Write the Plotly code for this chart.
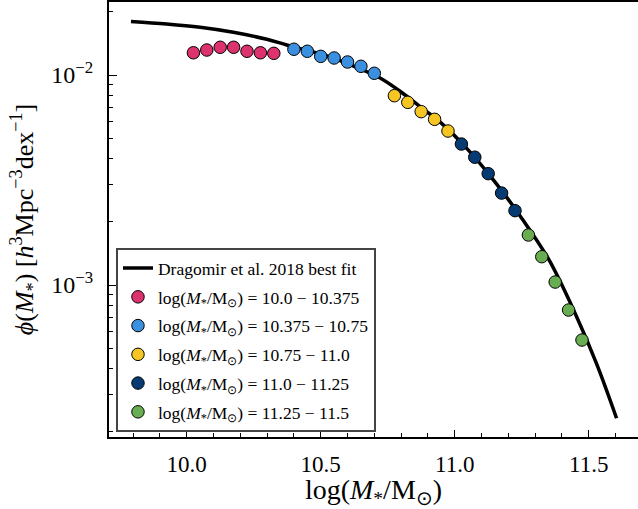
import plotly.graph_objects as go

# Best-fit stellar mass function curve (Dragomir et al. 2018)
fit_logm = [9.792, 9.925, 10.05, 10.174, 10.299, 10.373, 10.45, 10.55, 10.65,
            10.72, 10.80, 10.875, 10.95, 11.05, 11.15, 11.25, 11.35, 11.45,
            11.53, 11.604]
fit_phi = [0.0180, 0.0175, 0.01687, 0.01597, 0.01479, 0.0139, 0.0131, 0.0120,
           0.01065, 0.0097, 0.0083, 0.0070, 0.0059, 0.0044, 0.0031, 0.00208,
           0.00133, 0.00073, 0.00042, 0.000232]

# Measured points per stellar-mass bin
bin1_logm = [10.025, 10.075, 10.125, 10.175, 10.225, 10.275, 10.325]
bin1_phi = [0.01276, 0.01315, 0.01355, 0.01355, 0.01297, 0.01276, 0.01268]

bin2_logm = [10.40, 10.45, 10.50, 10.55, 10.60, 10.65, 10.70]
bin2_phi = [0.01326, 0.01297, 0.01227, 0.01205, 0.01153, 0.01100, 0.01019]

bin3_logm = [10.775, 10.825, 10.875, 10.925, 10.975]
bin3_phi = [0.00797, 0.00741, 0.00669, 0.00615, 0.00541]

bin4_logm = [11.025, 11.075, 11.125, 11.175, 11.225]
bin4_phi = [0.00469, 0.00406, 0.00339, 0.00274, 0.00226]

bin5_logm = [11.275, 11.325, 11.375, 11.425, 11.475]
bin5_phi = [0.00173, 0.001364, 0.001033, 0.000760, 0.000547]

bin_labels = ["10.0 − 10.375", "10.375 − 10.75", "10.75 − 11.0",
              "11.0 − 11.25", "11.25 − 11.5"]
bin_colors = ["#dc326e", "#3b8fdf", "#f5c623", "#063a73", "#69ad52"]

x_ticks = [10.0, 10.5, 11.0, 11.5]
x_ticktext = ["10.0", "10.5", "11.0", "11.5"]
x_minor = [9.8, 9.9, 10.1, 10.2, 10.3, 10.4, 10.6, 10.7, 10.8, 10.9,
           11.1, 11.2, 11.3, 11.4, 11.6]
y_ticks = [1e-3, 1e-2]
y_ticktext = ["10<sup>−3</sup>", "10<sup>−2</sup>"]
y_minor = [2e-4, 3e-4, 4e-4, 5e-4, 6e-4, 7e-4, 8e-4, 9e-4,
           2e-3, 3e-3, 4e-3, 5e-3, 6e-3, 7e-3, 8e-3, 9e-3, 2e-2]

FONT = "Liberation Serif"
mass_label = "log(<i>M</i><sub>*</sub>/M<sub>⊙</sub>)"

fig = go.Figure()
fig.add_trace(go.Scatter(
    x=fit_logm, y=fit_phi, mode="lines",
    line=dict(color="black", width=3.5, shape="spline", smoothing=1.0),
    name="Dragomir et al. 2018 best fit", legendgroup="fit"))

bins = [(bin1_logm, bin1_phi), (bin2_logm, bin2_phi), (bin3_logm, bin3_phi),
        (bin4_logm, bin4_phi), (bin5_logm, bin5_phi)]
for i, (xs, ys) in enumerate(bins):
    fig.add_trace(go.Scatter(
        x=xs, y=ys, mode="markers",
        marker=dict(size=12.5, color=bin_colors[i], line=dict(color="black", width=1)),
        name=f"{mass_label} = {bin_labels[i]}", legendgroup=f"b{i}"))

fig.update_layout(
    width=638, height=509,
    margin=dict(l=109, r=0, t=2, b=72),
    plot_bgcolor="white", paper_bgcolor="white",
    font=dict(family=FONT, color="black", size=22),
    showlegend=True,
    legend=dict(
        x=0.0132, y=0.434, xanchor="left", yanchor="top",
        bgcolor="white", bordercolor="#444444", borderwidth=2,
        font=dict(family=FONT, size=17.5, color="black"),
        traceorder="grouped", tracegroupgap=3,
    ),
    xaxis=dict(
        range=[9.710, 11.684], showgrid=False, zeroline=False,
        showline=True, linecolor="black", linewidth=2, mirror=True,
        ticks="inside", ticklen=7, tickwidth=1.2, tickcolor="black",
        tickmode="array", tickvals=x_ticks, ticktext=x_ticktext,
        tickfont=dict(size=23), ticklabelstandoff=5,
        minor=dict(ticks="inside", ticklen=4, tickwidth=1, tickcolor="black",
                   tickmode="array", tickvals=x_minor),
        title=dict(text=mass_label, font=dict(size=28), standoff=2),
    ),
    yaxis=dict(
        type="log", range=[-3.7238, -1.6524], showgrid=False, zeroline=False,
        showline=True, linecolor="black", linewidth=2, mirror=False,
        ticks="inside", ticklen=8, tickwidth=1.2, tickcolor="black",
        tickmode="array", tickvals=y_ticks, ticktext=y_ticktext,
        tickfont=dict(size=24), ticklabelstandoff=9,
        minor=dict(ticks="inside", ticklen=4, tickwidth=1, tickcolor="black",
                   tickmode="array", tickvals=y_minor),
        title=dict(text="<i>ϕ</i>(<i>M</i><sub>*</sub>) [<i>h</i><sup>3</sup>Mpc<sup>−3</sup>dex<sup>−1</sup>]",
                   font=dict(size=26), standoff=10),
    ),
)

fig.write_html("out.html")
